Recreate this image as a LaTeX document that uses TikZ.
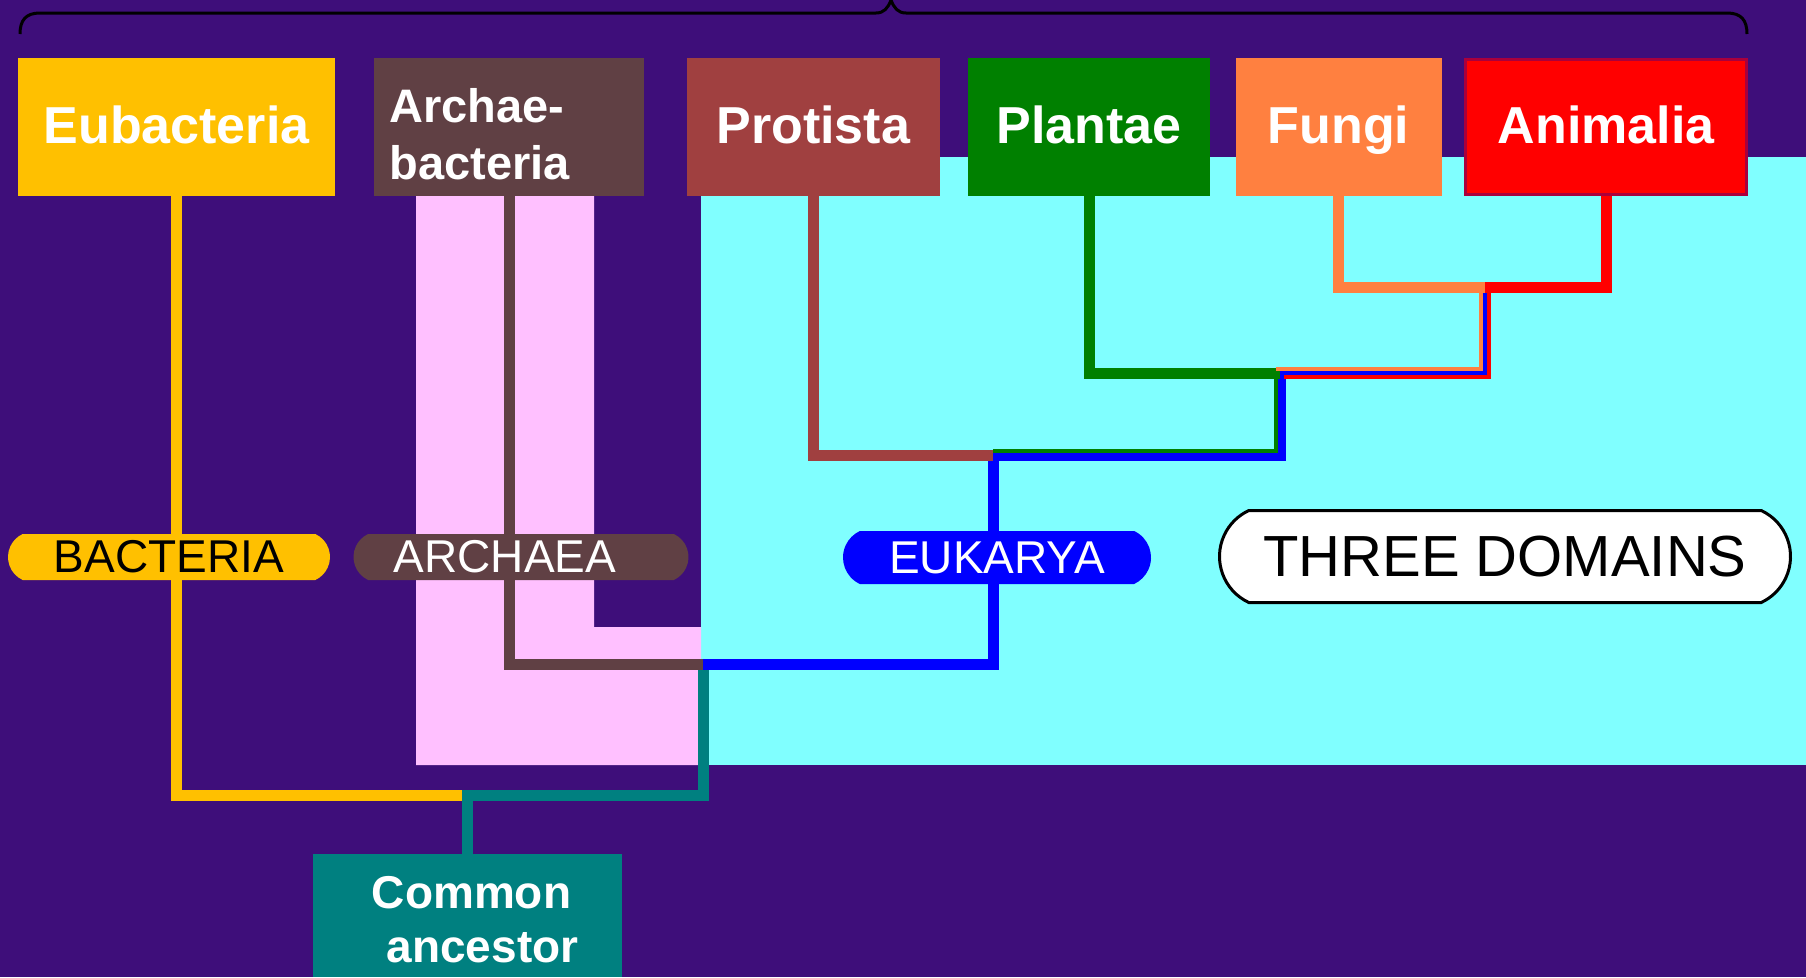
\documentclass[tikz,border=0pt]{standalone}
\usepackage{fontspec}
\setmainfont{Liberation Sans}
\usepackage{tikz}
\usetikzlibrary{positioning, shapes.misc}
\definecolor{bgpurple}{RGB}{62,14,122}
\definecolor{eubcol}{RGB}{255,192,0}
\definecolor{arccol}{RGB}{96,64,68}
\definecolor{procol}{RGB}{160,64,64}
\definecolor{placol}{RGB}{0,128,0}
\definecolor{funcol}{RGB}{255,128,64}
\definecolor{anicol}{RGB}{255,0,0}
\definecolor{anirim}{RGB}{170,0,60}
\definecolor{eukcol}{RGB}{0,0,255}
\definecolor{cacol}{RGB}{0,128,128}
\definecolor{cyanbg}{RGB}{128,255,255}
\definecolor{pinkbg}{RGB}{255,192,255}
\tikzset{
  taxon/.style={rectangle, minimum height=138pt, inner sep=0pt, text=white, font=\fontsize{52}{56}\selectfont\bfseries, text height=36pt, text depth=3pt},
  pill/.style={rounded rectangle, rounded rectangle arc length=130, inner sep=0pt, minimum height=46pt, font=\fontsize{46}{50}\selectfont},
  lineage/.style={line width=11pt},
  strip/.style={line width=3.5pt}
}

\begin{document}
\begin{tikzpicture}[x=1pt, y=-1pt]
  \useasboundingbox (0,0) rectangle (1806,977);
  \fill[bgpurple] (0,0) rectangle (1806,977);
  \fill[cyanbg] (701,157) rectangle (1806,765);
  \fill[pinkbg] (416,196) -- (594,196) -- (594,627) -- (701,627) -- (701,765) -- (416,765) -- cycle;
  \draw[line width=3pt] (20,34) .. controls (20,20) and (26,13) .. (40,13) -- (876,13) .. controls (884,13) and (888,8) .. (891,0) .. controls (894,8) and (898,13) .. (906,13) -- (1727,13) .. controls (1741,13) and (1747,20) .. (1747,34);

  \node[taxon, fill=eubcol, minimum width=317pt] (eub) at (176.5,127) {Eubacteria};
  \node[taxon, fill=arccol, minimum width=270pt, right=39pt of eub, align=left, text width=240pt, font=\fontsize{47}{57}\selectfont\bfseries, text height={}, text depth={}] (arc) {\rule{0pt}{48pt}Archae-\\bacteria};
  \node[taxon, fill=procol, minimum width=253pt, right=42pt of arc] (pro) {Protista};
  \node[taxon, fill=placol, minimum width=242pt, right=28pt of pro] (pla) {Plantae};
  \node[taxon, fill=funcol, minimum width=206pt, right=25pt of pla] (fun) {Fungi};
  \node[taxon, fill=anicol, draw=anirim, line width=3pt, minimum width=281pt, minimum height=135pt, right=22.5pt of fun] (ani) {Animalia};
  \node[taxon, fill=cacol, minimum width=309pt, minimum height=123pt, align=center, font=\fontsize{46}{54}\selectfont\bfseries, text height={}, text depth={}] (ca) at (467.5,915.5) {\hspace*{8pt}\rule{0pt}{41pt}Common\\\hspace*{30pt}ancestor};

  \coordinate (root) at (467.5,795);
  \coordinate (ea) at (703,664);
  \coordinate (euk) at (993,455);
  \coordinate (pfa) at (1280,373);
  \coordinate (fa) at (1485,287);

  \draw[lineage, eubcol] (eub.south) |- (root);
  \draw[lineage, cacol] (ca.north) -- (root) -| (ea);
  \draw[lineage, arccol] (arc.south) |- (ea);
  \draw[lineage, eukcol] (ea) -| (euk) -| (pfa) -| (fa);
  \draw[lineage, procol] (pro.south) |- (euk);
  \draw[lineage, placol] (pla.south) |- (pfa);
  \draw[lineage, funcol] (fun.south) |- (fa);
  \draw[lineage, anicol] (ani.south) |- (fa);
  \draw[strip, placol] ([xshift=-4pt]pfa) |- ([yshift=4pt]euk);
  \draw[strip, funcol] ([xshift=-4pt, yshift=4pt]pfa) -| ([xshift=-4pt]fa);
  \draw[strip, anicol] ([xshift=4pt, yshift=-4pt]pfa) -| ([xshift=4pt]fa);

  \node[pill, fill=eubcol, minimum width=322pt] (bacteria) at (169,557) {BACTERIA};
  \node[pill, fill=arccol, text=white, minimum width=335pt] (archaea) at (521,557) {ARCHAEA\hspace*{32pt}};
  \node[pill, fill=eukcol, text=white, minimum width=308pt, minimum height=53pt] (eukarya) at (997,557.5) {EUKARYA};
  \node[pill, fill=white, draw=black, line width=3pt, minimum width=571pt, minimum height=92pt, font=\fontsize{58}{62}\selectfont] (three) at (1505,556.5) {THREE DOMAINS};
\end{tikzpicture}
\end{document}
